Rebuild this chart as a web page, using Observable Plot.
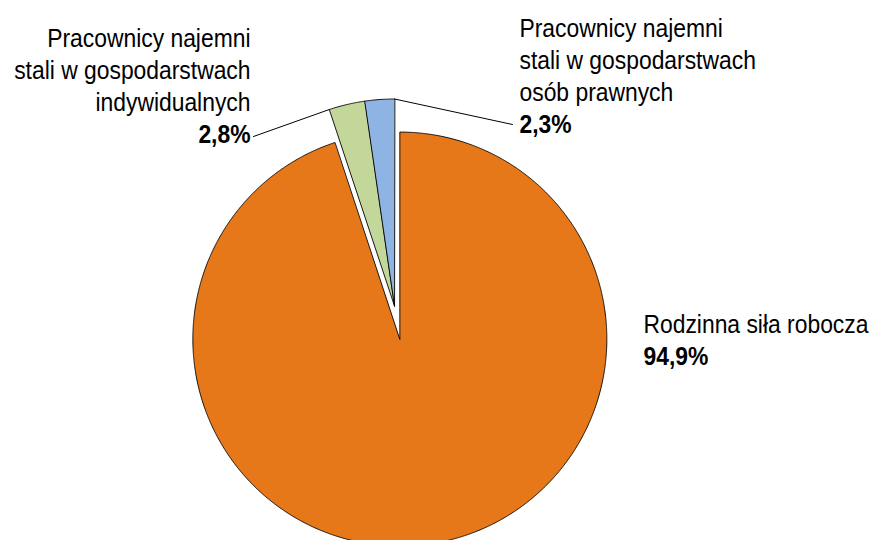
<!DOCTYPE html>
<html><head><meta charset="utf-8">
<script src="https://cdn.jsdelivr.net/npm/d3@7"></script>
<script src="https://cdn.jsdelivr.net/npm/@observablehq/plot@0.6"></script>
<style>
body{margin:0;background:#fff;}
#chart svg{display:block;}
</style>
</head><body><div id="chart"></div>
<script>
// ---- data ----
const categories = ["Rodzinna siła robocza", "Pracownicy najemni stali w gospodarstwach indywidualnych", "Pracownicy najemni stali w gospodarstwach osób prawnych"];
const labelLines = [
  ["Rodzinna siła robocza"],
  ["Pracownicy najemni", "stali w gospodarstwach", "indywidualnych"],
  ["Pracownicy najemni", "stali w gospodarstwach", "osób prawnych"]
];
const values = [94.9, 2.8, 2.3];
const valueLabels = ["94,9%", "2,8%", "2,3%"];
const colors = ["#E6781A", "#C4D79B", "#8EB4E3"];

// ---- layout ----
const W = 874, H = 540;
const cx = 394, cy = 305.5, R = 207;
const explode = [33.5, 0, 0];           // px offset along bisector
const fontFamily = "'Liberation Sans',Arial,sans-serif";
const fontSize = 26, lineGap = 32, squeeze = 0.88;
// label anchor (pixels): x, baseline of last (percentage) line, text anchor
const labelPos = [
  {x: 643, y: 364, anchor: "start"},
  {x: 250, y: 142, anchor: "end"},
  {x: 519, y: 132, anchor: "start"}
];
const leaderStart = [null, {x: 253, y: 136}, {x: 512, y: 124}];

// ---- geometry via d3.pie ----
const arcs = d3.pie().sort(null).value(d => d)(values);
const ux = px => (px - cx) / R, uy = py => (py - cy) / R;
const poly = [];
arcs.forEach((a, i) => {
  const mid = (a.startAngle + a.endAngle) / 2;
  const ox = Math.sin(mid) * explode[i] / R, oy = -Math.cos(mid) * explode[i] / R;
  poly.push({k: i, x: ox, y: oy, c: colors[i]});
  const n = Math.max(4, Math.ceil((a.endAngle - a.startAngle) / 0.005));
  for (let j = 0; j <= n; j++) {
    const t = a.startAngle + (a.endAngle - a.startAngle) * j / n;
    poly.push({k: i, x: ox + Math.sin(t), y: oy - Math.cos(t), c: colors[i]});
  }
});

// text rows
const nameRows = [], pctRows = [];
labelLines.forEach((lines, i) => {
  const p = labelPos[i];
  lines.forEach((s, j) => {
    nameRows.push({x: ux(p.x), y: uy(p.y - (lines.length - j) * lineGap), t: s, a: p.anchor});
  });
  pctRows.push({x: ux(p.x), y: uy(p.y), t: valueLabels[i], a: p.anchor});
});

// leaders: from label to slice outer corner
const leaders = [];
[1, 2].forEach(i => {
  const a = arcs[i];
  const ang = i === 1 ? a.startAngle : a.endAngle;
  leaders.push({k: i, x: ux(leaderStart[i].x), y: uy(leaderStart[i].y)});
  leaders.push({k: i, x: Math.sin(ang), y: -Math.cos(ang)});
});

const textOpts = (rows, weight) => ["start", "end"].map(anc => Plot.text(rows.filter(r => r.a === anc), {
  x: "x", y: "y", text: "t", textAnchor: anc, lineAnchor: "bottom",
  fontSize, fontFamily, fontWeight: weight, fill: "#000"
}));

const chart = Plot.plot({
  width: W, height: H,
  margin: 0,
  x: {domain: [ux(0), ux(W)], range: [0, W], axis: null},
  y: {domain: [uy(0), uy(H)], range: [0, H], axis: null},
  color: {type: "identity"},
  style: {background: "#fff", fontFamily},
  marks: [
    Plot.line(poly, {x: "x", y: "y", z: "k", fill: "c", stroke: "#000", strokeWidth: 0.9, curve: "linear-closed", strokeLinejoin: "miter"}),
    Plot.line(leaders, {x: "x", y: "y", z: "k", stroke: "#000", strokeWidth: 1}),
    ...textOpts(nameRows, "normal"),
    ...textOpts(pctRows, "bold")
  ]
});
document.getElementById("chart").appendChild(chart);
// condense text horizontally around its anchor (reference uses a narrow face)
d3.select(chart).selectAll("text").each(function() {
  const tr = this.getAttribute("transform") || "";
  this.setAttribute("transform", tr + ` scale(${squeeze},1)`);
});
</script>
</body></html>
